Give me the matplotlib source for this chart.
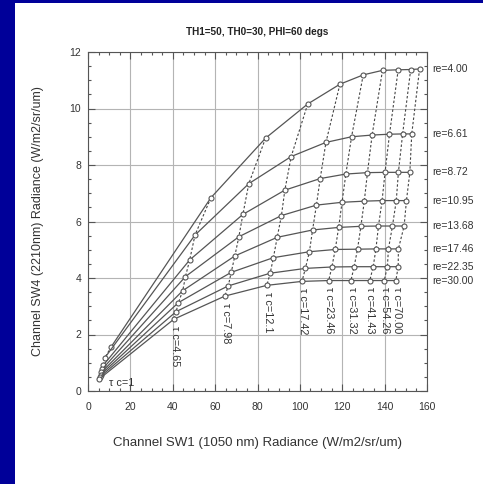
import numpy as np
import matplotlib
matplotlib.use('Agg')
import matplotlib.pyplot as plt
from matplotlib.patches import Rectangle
from matplotlib.ticker import MultipleLocator

plt.rcParams['font.family'] = ['Liberation Sans', 'DejaVu Sans']

# cloud optical thickness (tau c) and effective radius (re) of the table
tau_labels = ['1', '4.65', '7.98', '12.1', '17.42', '23.46', '31.32', '41.43', '54.26', '70.00']
re_labels = ['4.00', '6.61', '8.72', '10.95', '13.68', '17.46', '22.35', '30.00']

# Channel SW1 (1050 nm) radiance, one row per re, one column per tau
sw1 = [
    [11.0, 58.0, 83.8, 103.7, 118.9, 129.9, 139.0, 146.4, 152.3, 156.5],
    [7.8, 50.5, 75.9, 95.9, 112.3, 124.4, 134.1, 142.3, 148.5, 152.8],
    [7.3, 48.0, 73.1, 92.9, 109.6, 121.7, 131.9, 140.2, 146.5, 151.9],
    [6.8, 46.0, 71.2, 91.3, 107.8, 119.9, 130.4, 138.8, 145.5, 150.3],
    [6.3, 44.7, 69.3, 89.3, 106.0, 118.3, 128.8, 137.1, 143.7, 149.2],
    [5.9, 42.7, 67.6, 87.5, 104.5, 116.7, 127.2, 135.9, 141.8, 146.5],
    [5.5, 41.6, 66.2, 86.0, 102.6, 115.1, 125.6, 134.6, 141.3, 146.4],
    [5.2, 40.5, 64.6, 84.4, 101.0, 113.6, 124.1, 133.0, 139.8, 145.3],
]

# Channel SW4 (2210 nm) radiance, same layout
sw4 = [
    [1.57, 6.84, 8.95, 10.16, 10.86, 11.19, 11.35, 11.37, 11.38, 11.40],
    [1.16, 5.52, 7.34, 8.30, 8.80, 9.00, 9.06, 9.09, 9.10, 9.10],
    [0.92, 4.64, 6.25, 7.11, 7.52, 7.68, 7.73, 7.74, 7.74, 7.74],
    [0.78, 4.05, 5.46, 6.21, 6.58, 6.68, 6.72, 6.74, 6.74, 6.74],
    [0.66, 3.55, 4.78, 5.44, 5.70, 5.79, 5.83, 5.84, 5.84, 5.84],
    [0.57, 3.13, 4.20, 4.72, 4.93, 5.01, 5.02, 5.03, 5.03, 5.03],
    [0.49, 2.81, 3.72, 4.17, 4.34, 4.39, 4.40, 4.40, 4.40, 4.40],
    [0.42, 2.54, 3.36, 3.74, 3.88, 3.91, 3.91, 3.91, 3.91, 3.91],
]

sw1 = np.array(sw1)
sw4 = np.array(sw4)

fig = plt.figure(figsize=(4.83, 4.84), dpi=100)
fig.patch.set_facecolor('#000099')
# white slide area, blue strip on the left and top
fig.add_artist(Rectangle((15 / 483, 0), 1 - 15 / 483, 1 - 3 / 484,
                         transform=fig.transFigure, facecolor='white',
                         edgecolor='none', zorder=-10))

ax = fig.add_axes([88 / 483, 93 / 484, 339 / 483, 339 / 484])

line_col = '#555555'

# constant tau lines (dashed)
for j in range(len(tau_labels)):
    ax.plot(sw1[:, j], sw4[:, j], ls=(0, (2.2, 1.8)), color='#444444', lw=0.8, zorder=2)

# constant re lines with open markers
for i in range(len(re_labels)):
    ax.plot(sw1[i], sw4[i], '-', color=line_col, lw=0.9, marker='o', ms=3.6,
            mfc='white', mec=line_col, mew=0.8, zorder=3)
    ax.annotate('re=' + re_labels[i], xy=(1, sw4[i][-1]),
                xycoords=('axes fraction', 'data'), xytext=(3.5, 0),
                textcoords='offset points', ha='left', va='center',
                fontsize=7.5, color='#333333', annotation_clip=False)

# tau labels below the re=30 curve
ax.annotate('\u03c4 c=' + tau_labels[0], xy=(sw1[-1][0], sw4[-1][0]),
            xytext=(7, -2.5), textcoords='offset points', ha='left', va='center',
            fontsize=7.8, color='#333333')
for j in range(1, len(tau_labels)):
    ax.annotate('\u03c4 c=' + tau_labels[j], xy=(sw1[-1][j], sw4[-1][j]),
                xytext=(0.5, -5), textcoords='offset points', ha='center', va='top',
                rotation=-90, fontsize=7.8, color='#333333')

ax.set_xlim(0, 160)
ax.set_ylim(0, 12)
ax.xaxis.set_major_locator(MultipleLocator(20))
ax.xaxis.set_minor_locator(MultipleLocator(5))
ax.yaxis.set_major_locator(MultipleLocator(2))
ax.yaxis.set_minor_locator(MultipleLocator(0.5))

ax.grid(True, which='major', color='#b4b4b4', lw=0.8)
ax.set_axisbelow(True)
for s in ax.spines.values():
    s.set_color(line_col)
    s.set_linewidth(0.8)

ax.tick_params(which='both', direction='in', top=True, right=True,
               color=line_col, labelsize=7.5, labelcolor='#333333')
ax.tick_params(which='major', length=5, width=0.8)
ax.tick_params(which='minor', length=2.5, width=0.8)
ax.tick_params(axis='x', pad=8)
ax.tick_params(axis='y', pad=5)

ax.set_xlabel('Channel SW1 (1050 nm) Radiance (W/m2/sr/um)', fontsize=9.5, color='#333333')
ax.set_ylabel('Channel SW4 (2210nm) Radiance (W/m2/sr/um)', fontsize=9, color='#333333')
ax.xaxis.label.set_va('center')
ax.yaxis.label.set_va('center')
ax.xaxis.set_label_coords(0.5, -(442.7 - 391) / 339)
ax.yaxis.set_label_coords(-(88 - 38) / 339, 0.5)

ax.set_title('TH1=50, TH0=30, PHI=60 degs', fontsize=7.2, fontweight='bold',
             color='#222222', pad=12)

fig.savefig('out.png', dpi=100, facecolor=fig.get_facecolor())
